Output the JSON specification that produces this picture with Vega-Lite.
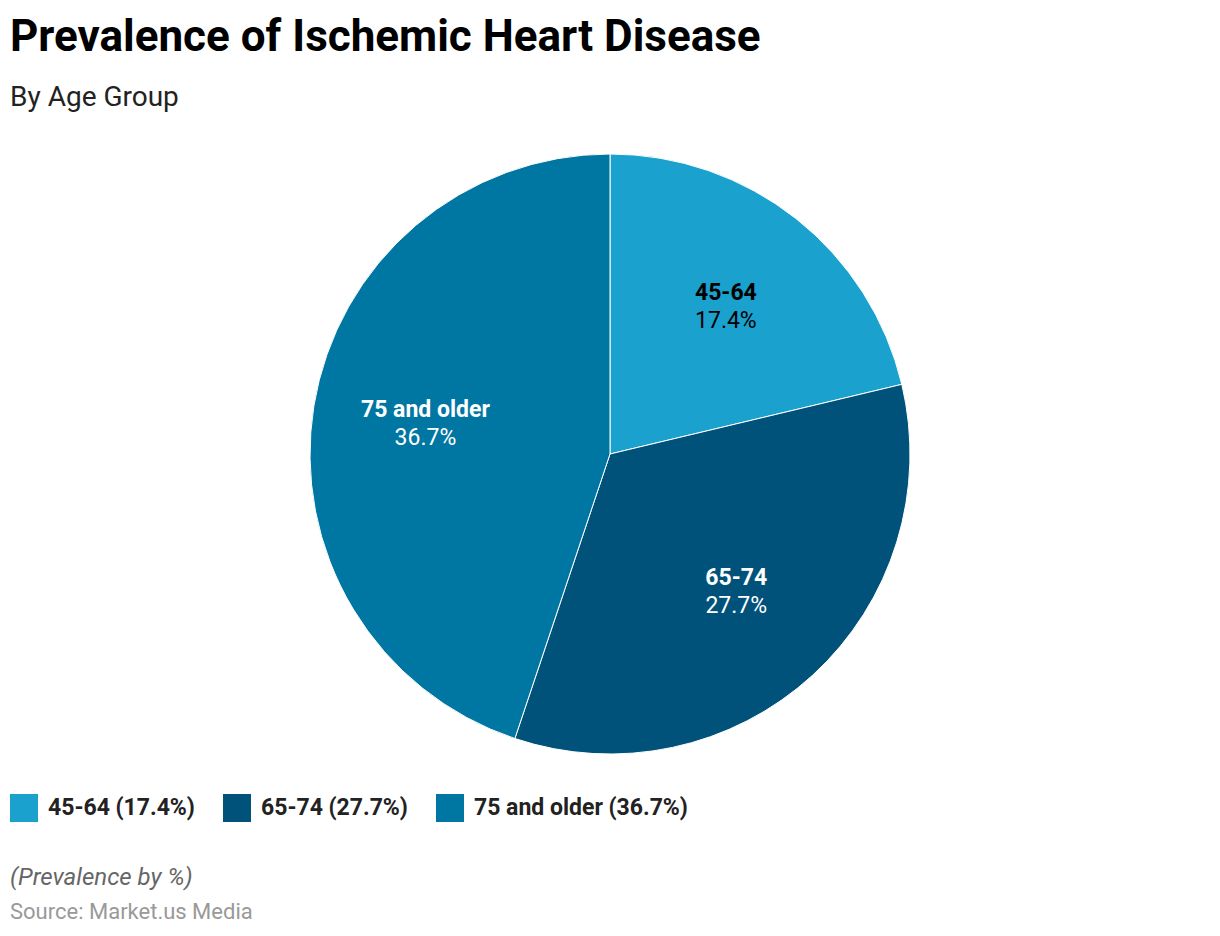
{
  "$schema": "https://vega.github.io/schema/vega-lite/v6.json",
  "background": "white",
  "padding": {"left": 10, "top": 16, "right": 10, "bottom": 0},
  "title": {
    "text": "Prevalence of Ischemic Heart Disease",
    "subtitle": "By Age Group",
    "anchor": "start",
    "font": "Roboto",
    "fontSize": 44,
    "fontWeight": "bold",
    "color": "#000000",
    "subtitleFont": "Roboto",
    "subtitleFontSize": 28,
    "subtitleColor": "#222222",
    "subtitlePadding": 24,
    "offset": 40
  },
  "data": {
    "values": [
      {"group": "45-64", "value": 17.4, "pct": "17.4%", "legend": "45-64 (17.4%)"},
      {"group": "65-74", "value": 27.7, "pct": "27.7%", "legend": "65-74 (27.7%)"},
      {"group": "75 and older", "value": 36.7, "pct": "36.7%", "legend": "75 and older (36.7%)"}
    ]
  },
  "vconcat": [
    {
      "width": 1200,
      "height": 600,
      "title": {
        "text": "(Prevalence by %)",
        "subtitle": "Source: Market.us Media",
        "orient": "bottom",
        "anchor": "start",
        "font": "Roboto",
        "fontSize": 24,
        "fontStyle": "italic",
        "fontWeight": "normal",
        "color": "#666666",
        "subtitleFont": "Roboto",
        "subtitleFontSize": 22,
        "subtitleColor": "#999999",
        "subtitlePadding": 12,
        "offset": 110
      },
      "layer": [
        {
          "mark": {"type": "arc", "stroke": "white", "strokeWidth": 1, "outerRadius": 300},
          "encoding": {
            "theta": {"field": "value", "type": "quantitative", "stack": true},
            "color": {
              "field": "legend",
              "type": "nominal",
              "scale": {"range": ["#1aa1cd", "#01527a", "#0077a2"]},
              "legend": {
                "title": null,
                "orient": "none",
                "legendX": 0,
                "legendY": 640,
                "direction": "horizontal",
                "symbolType": "square",
                "symbolSize": 784,
                "symbolStrokeWidth": 0,
                "labelFont": "Roboto",
                "labelFontSize": 23,
                "labelFontWeight": "bold",
                "labelColor": "#222222",
                "labelOffset": 10,
                "columnPadding": 28,
                "labelLimit": 400
              }
            }
          }
        },
        {
          "mark": {"type": "text", "font": "Roboto", "fontSize": 23, "fontWeight": "bold", "dy": -14},
          "encoding": {
            "theta": {"field": "value", "type": "quantitative", "stack": true},
            "radius": {"value": 187},
            "text": {"field": "group"},
            "color": {"condition": {"test": "datum.group === '45-64'", "value": "#000000"}, "value": "#ffffff"}
          }
        },
        {
          "mark": {"type": "text", "font": "Roboto", "fontSize": 23, "fontWeight": "normal", "dy": 14},
          "encoding": {
            "theta": {"field": "value", "type": "quantitative", "stack": true},
            "radius": {"value": 187},
            "text": {"field": "pct"},
            "color": {"condition": {"test": "datum.group === '45-64'", "value": "#000000"}, "value": "#ffffff"}
          }
        }
      ]
    }
  ]
}
